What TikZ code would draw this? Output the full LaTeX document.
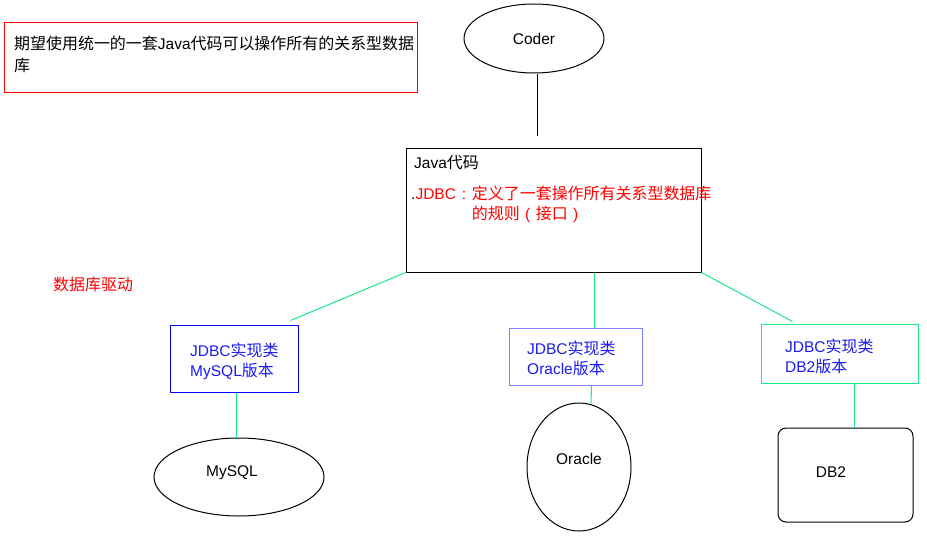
\documentclass[tikz,border=0pt]{standalone}
\usepackage{fontspec}
\setmainfont{Liberation Sans}
\newfontfamily\cjk[Scale=1.03]{Noto Sans CJK SC}
\newcommand{\zh}[1]{{\cjk #1}}
\newcommand{\fw}[1]{\makebox[1.03em]{#1}}
\usetikzlibrary{shapes.geometric,positioning,calc}
\definecolor{LinkGreen}{HTML}{1AE88A}
\definecolor{ImplBlue}{HTML}{0000FF}
\definecolor{ImplLight}{HTML}{8080FF}
\definecolor{TextBlue}{HTML}{1A1AF0}

\begin{document}
\begin{tikzpicture}[
	x=1pt, y=-1pt,
	font=\fontsize{15.5}{20}\selectfont,
	frame/.style={draw, line width=1pt, inner sep=0pt},
	dbellipse/.style={frame, ellipse},
	txt/.style={inner sep=0pt, anchor=base west, align=left},
	link/.style={draw=LinkGreen, line width=1pt}
]
\useasboundingbox (0,0) rectangle (927,538);

% goal note
\node[frame, draw=red, minimum width=413pt, minimum height=70pt] (goal) at (210.5,57) {};
\node[txt, font=\fontsize{15.5}{22}\selectfont] (goaltext) at (14,49) {\begin{tabular}[t]{@{}l@{}}\zh{期望使用统一的一套}Java\zh{代码可以操作所有的关系型数据}\\\zh{库}\end{tabular}};

% coder and java code
\node[dbellipse, minimum width=140pt, minimum height=69pt] (coder) at (534,38.5) {Coder};
\node[frame, minimum width=295pt, minimum height=124pt] (java) at (553.5,210) {};
\node[txt] (javatitle) at (414,168) {Java\zh{代码}};
\node[txt] (jdbc) at (411,199) {.\textcolor{red}{JDBC\fw{:}\begin{tabular}[t]{@{}l@{}}\zh{定义了一套操作所有关系型数据库}\\\zh{的规则}\fw{(}\zh{接口}\fw{)}\end{tabular}}};

\node[txt, text=red] (driver) at (53,290) {\zh{数据库驱动}};

% implementations
\node[frame, draw=ImplBlue, minimum width=128pt, minimum height=67pt] (mysqlimpl) at (234,358.5) {};
\node[frame, draw=ImplLight, minimum width=133pt, minimum height=57pt] (oracleimpl) at (575.5,356.5) {};
\node[frame, draw=LinkGreen, minimum width=157pt, minimum height=59pt] (db2impl) at (839.5,353.5) {};
\node[txt, text=TextBlue] (mysqlimpltext) at (190,356) {\begin{tabular}[t]{@{}l@{}}JDBC\zh{实现类}\\MySQL\zh{版本}\end{tabular}};
\node[txt, text=TextBlue] (oracleimpltext) at (527,354) {\begin{tabular}[t]{@{}l@{}}JDBC\zh{实现类}\\Oracle\zh{版本}\end{tabular}};
\node[txt, text=TextBlue] (db2impltext) at (785,352) {\begin{tabular}[t]{@{}l@{}}JDBC\zh{实现类}\\DB2\zh{版本}\end{tabular}};

% databases
\node[dbellipse, minimum width=170pt, minimum height=78pt] (mysql) at (239,477) {};
\node[dbellipse, minimum width=104pt, minimum height=128pt] (oracle) at (579,467) {};
\node[frame, rounded corners=8pt, minimum width=135pt, minimum height=94pt] (db2) at (845.5,475) {};
\node[txt, anchor=base] (mysqltext) at (232,476) {MySQL};
\node[txt, anchor=base] (oracletext) at (579,464) {Oracle};
\node[txt, anchor=base] (db2text) at (831,477) {DB2};

% connectors
\draw[line width=1pt, shorten >=12pt] ([xshift=3pt]coder.south) -- ([xshift=3pt]coder.south |- java.north);
\draw[link] (java.south west) -- ([xshift=-8pt,yshift=4pt]mysqlimpl.north east);
\draw[link] ([xshift=40.5pt]java.south) -- ([xshift=40.5pt]java.south |- oracleimpl.north);
\draw[link] (java.south east) -- ([xshift=32pt,yshift=2pt]db2impl.north west);
\draw[link] ([xshift=2pt]mysqlimpl.south) -- ([xshift=2pt]mysqlimpl.south |- mysql.north);
\draw[link] ([xshift=16pt]oracleimpl.south) -- ([xshift=12pt,yshift=-1.5pt]oracle.north);
\draw[link] ([xshift=15pt]db2impl.south) -- ([xshift=15pt]db2impl.south |- db2.north);
\end{tikzpicture}
\end{document}
